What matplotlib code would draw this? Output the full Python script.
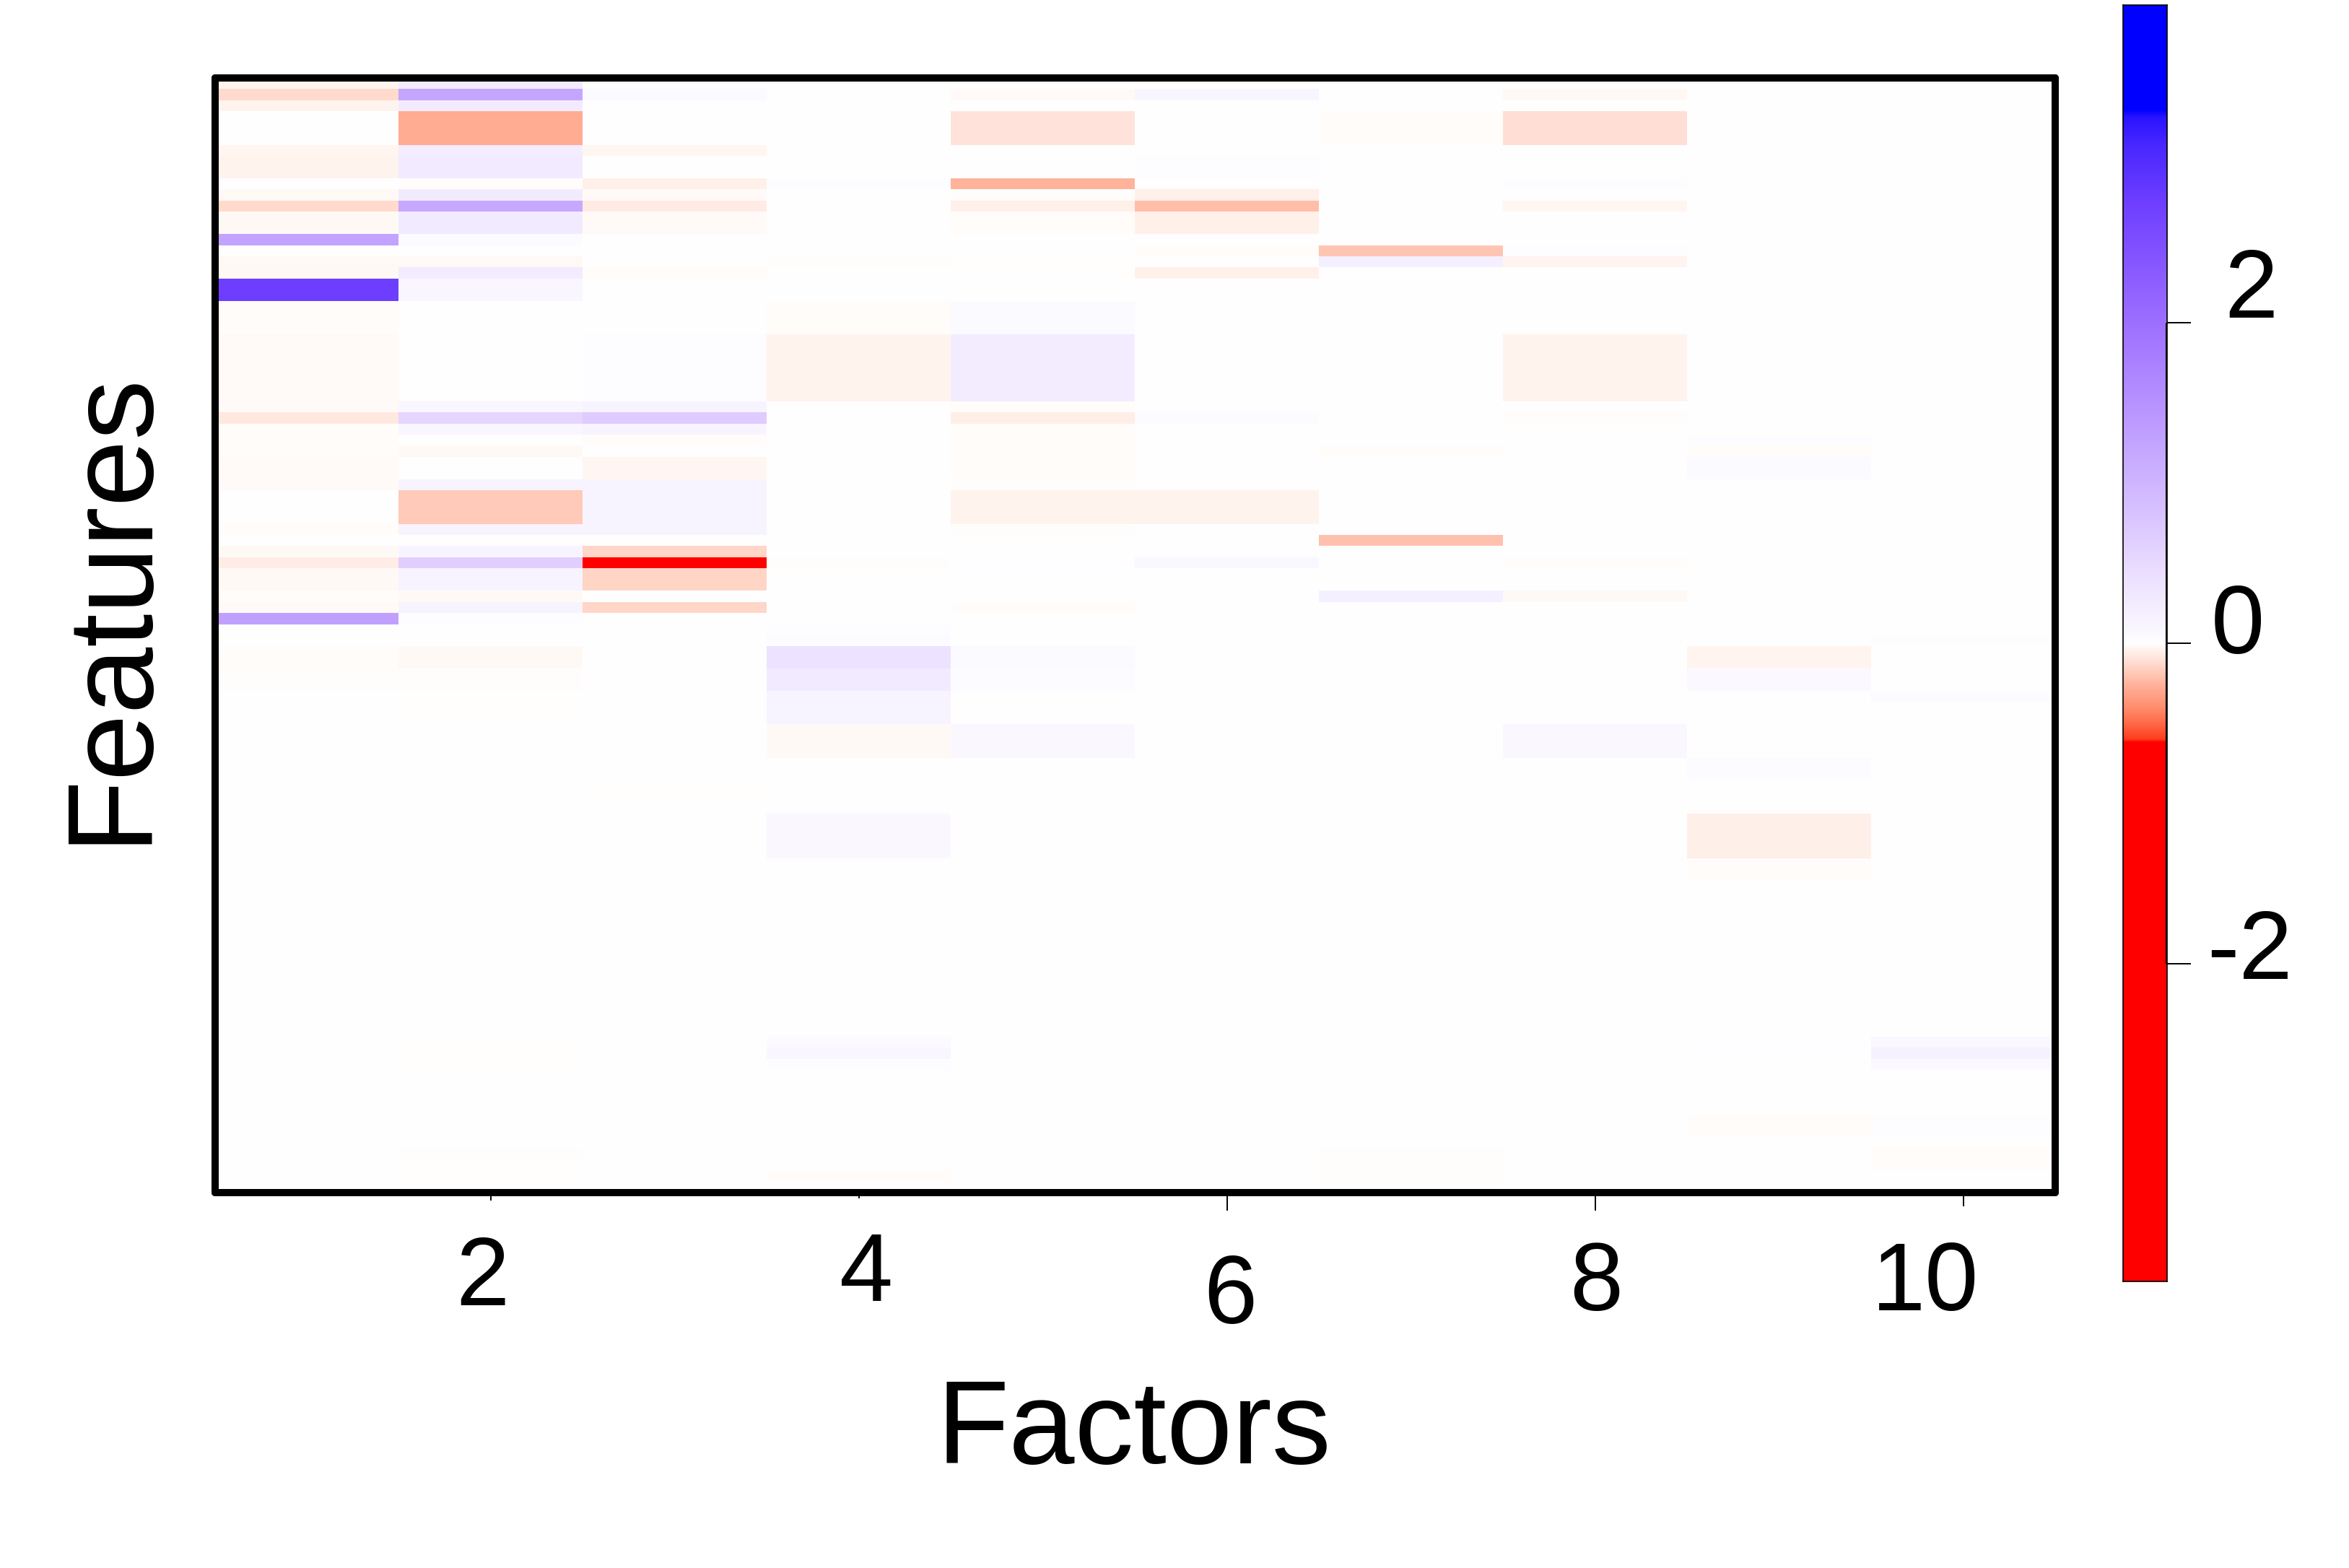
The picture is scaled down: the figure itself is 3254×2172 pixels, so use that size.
import numpy as np
import matplotlib
matplotlib.use("Agg")
import matplotlib.pyplot as plt
from matplotlib.colors import LinearSegmentedColormap, Normalize
from matplotlib.transforms import blended_transform_factory

plt.rcParams['font.family'] = ['Liberation Sans', 'DejaVu Sans']

n_features = 100
factor_numbers = list(range(1, 11))
# each entry: (first feature row, last feature row, value)
factor_1 = [(0,0,-.04),(1,1,-.13),(2,2,-.04),(6,6,-.03),(7,8,-.04),(10,10,-.02),(11,11,-.13),(12,13,-.02),
            (14,14,1.25),(16,16,-.02),(17,17,-.02),(18,19,2.75),(20,22,-.01),(23,29,-.015),(30,30,-.08),
            (31,33,-.01),(34,36,-.015),(40,40,-.012),(42,42,-.018),(43,43,-.065),(44,45,-.018),(46,46,-.012),
            (47,47,-.015),(48,48,1.3),(51,52,-.01),(53,54,-.005),(58,60,-.002)]
factor_2 = [(0,0,.25),(1,1,1.22),(2,2,.25),(3,5,-.28),(6,6,.23),(7,8,.25),(9,9,-.008),(10,10,.25),(11,11,1.18),
            (12,13,.25),(14,14,.04),(16,16,-.02),(17,17,.24),(18,19,.1),(29,29,.1),(30,30,.55),(31,31,.1),
            (33,33,-.02),(36,36,.12),(37,39,-.18),(40,40,.12),(42,42,.13),(43,43,.65),(44,45,.13),(46,46,-.02),
            (47,47,.14),(48,48,.03),(51,52,-.02),(53,54,-.008),(55,57,-.003),(66,69,-.002),(87,88,-.003),
            (96,96,-.006),(98,98,-.003)]
factor_3 = [(1,1,.05),(6,6,-.03),(9,9,-.05),(10,10,-.015),(11,11,-.07),(12,13,-.015),(17,17,-.012),(23,28,.03),
            (29,29,.12),(30,30,.68),(31,31,.12),(32,32,-.01),(34,35,-.03),(36,36,.13),(37,39,.12),(40,40,.13),
            (42,42,-.14),(43,43,-1.0),(44,45,-.145),(47,47,-.14),(64,64,-.004)]
factor_4 = [(9,9,.03),(16,16,-.005),(20,22,-.012),(23,28,-.04),(43,43,-.007),(49,49,.02),(50,50,.04),(51,52,.4),
            (53,54,.26),(55,57,.12),(58,60,-.018),(66,69,.08),(86,86,.05),(87,87,.1),(88,88,.03),(98,98,-.01)]
factor_5 = [(1,1,-.015),(3,5,-.1),(9,9,-.26),(10,10,-.008),(11,11,-.05),(12,13,-.01),(16,17,-.004),(20,22,.05),
            (23,28,.24),(29,29,-.012),(30,30,-.06),(31,33,-.01),(34,35,-.012),(36,36,-.008),(37,39,-.04),
            (40,40,-.007),(43,43,.01),(47,47,-.012),(51,52,.05),(53,54,.035),(58,60,.08)]
factor_6 = [(1,1,.11),(7,8,.02),(10,10,-.05),(11,11,-.22),(12,13,-.05),(15,15,-.012),(17,17,-.05),(30,30,.04),
            (37,39,-.04),(43,43,.07)]
factor_7 = [(3,5,-.012),(15,15,-.2),(16,16,.18),(33,33,-.01),(41,41,-.21),(46,46,.19),(96,98,-.008),(99,99,-.005)]
factor_8 = [(1,1,-.02),(3,5,-.11),(9,9,.03),(11,11,-.03),(15,15,.03),(16,16,-.035),(23,28,-.04),(30,30,-.008),
            (43,43,-.012),(46,46,-.018),(58,60,.08)]
factor_9 = [(32,32,.02),(33,33,-.01),(34,35,.05),(51,52,-.035),(53,54,.06),(61,62,.04),(66,69,-.055),(70,71,-.012),
            (86,86,.01),(93,94,-.012)]
factor_10 = [(49,49,.005),(50,50,.02),(55,55,.04),(86,86,.08),(87,87,.17),(88,88,.06),(93,94,.015),(96,97,-.012)]
factors = [factor_1, factor_2, factor_3, factor_4, factor_5, factor_6, factor_7, factor_8, factor_9, factor_10]

x_ticks = [2, 4, 6, 8, 10]
x_tick_labels = ['2', '4', '6', '8', '10']
bar_ticks = [2, 0, -2]
bar_tick_labels = ['2', '0', '-2']
value_limit = 3.98
colour_stops = [(-3.98,'#FF0000'),(-.617,'#FF0000'),(-.60,'#FF3C1E'),(-.5,'#FF6A48'),(-.4,'#FF8E6E'),(-.28,'#FFAD94'),
                (-.2,'#FFC5B2'),(-.14,'#FFD7C9'),(-.1,'#FFE3DA'),(-.05,'#FFF1EB'),(-.02,'#FFF9F5'),(-.01,'#FFFDFB'),
                (0,'#FFFFFF'),(.03,'#FDFCFF'),(.1,'#F9F6FF'),(.25,'#F3ECFF'),(.4,'#EDE2FF'),(.65,'#E1CEFF'),
                (1.25,'#C3A4FF'),(2,'#9E6FFF'),(2.75,'#6E3FFF'),(3.1,'#4A28FF'),(3.28,'#2A14FF'),(3.33,'#0000FF'),
                (3.98,'#0000FF')]

W, H = 3254, 2172
fig = plt.figure(figsize=(W/100, H/100), dpi=100, facecolor='white')

def rect(x0, y0, x1, y1):
    return [x0/W, 1-y1/H, (x1-x0)/W, (y1-y0)/H]

norm = Normalize(-value_limit, value_limit)
cmap = LinearSegmentedColormap.from_list(
    'loadings', [((v+value_limit)/(2*value_limit), c) for v, c in colour_stops], N=8192)

matrix = np.zeros((n_features, len(factors)))
for j, col in enumerate(factors):
    for first, last, val in col:
        matrix[first:last+1, j] = val

ax = fig.add_axes(rect(298, 108, 2847, 1652))
ax.imshow(matrix, cmap=cmap, norm=norm, aspect='auto', interpolation='nearest',
          extent=(0.5, 10.5, n_features, 0))
for s in ax.spines.values():
    s.set_linewidth(7.2)
    s.set_capstyle('round')
ax.set_yticks([])
ax.set_xticks(x_ticks)
ax.set_xticklabels([])
ax.tick_params(axis='x', width=1.4, direction='out', length=10, pad=0)
tick_lengths = [8, 6, 18, 18, 14]
for t, L in zip(ax.xaxis.get_major_ticks(), tick_lengths):
    t.tick1line.set_markersize(L)

label_tr = blended_transform_factory(ax.transData, ax.transAxes)
label_dx = [-12, 10, 4, 2, -52]
label_dy = [-121, -116, -146, -129, -129]
for v, lab, dx, dy in zip(x_ticks, x_tick_labels, label_dx, label_dy):
    ax.annotate(lab, xy=(v, 0), xycoords=label_tr, xytext=(dx, dy), textcoords='offset pixels',
                ha='center', va='center', fontsize=96, color='black')

fig.text(1571/W, 1-1985/H, 'Factors', ha='center', va='center', fontsize=118, color='black')
fig.text(155/W, 1-840/H, 'Features', ha='center', va='center', rotation=90, fontsize=120, color='black')

# colour bar
cax = fig.add_axes(rect(2941, 7, 3002, 1775))
gradient = np.linspace(value_limit, -value_limit, 2048).reshape(-1, 1)
cax.imshow(gradient, cmap=cmap, norm=norm, aspect='auto', interpolation='bilinear',
           extent=(0, 1, -value_limit, value_limit))
for s in cax.spines.values():
    s.set_linewidth(1.2)
cax.set_xticks([])
cax.yaxis.tick_right()
cax.set_yticks(bar_ticks)
cax.set_yticklabels([])
cax.tick_params(axis='y', width=1.4, length=24, direction='out')
cax.plot([0.98, 0.98], [-2, 2], color='black', lw=2.2, solid_capstyle='butt')
cax.set_xlim(0, 1)
cax.set_ylim(-value_limit, value_limit)
bar_label_xy = [(3118, 406), (3100, 870), (3116, 1321)]
for lab, (px, py) in zip(bar_tick_labels, bar_label_xy):
    fig.text(px/W, 1-py/H, lab, ha='center', va='center', fontsize=96, color='black')

fig.savefig('out.png', dpi=100, facecolor='white')
